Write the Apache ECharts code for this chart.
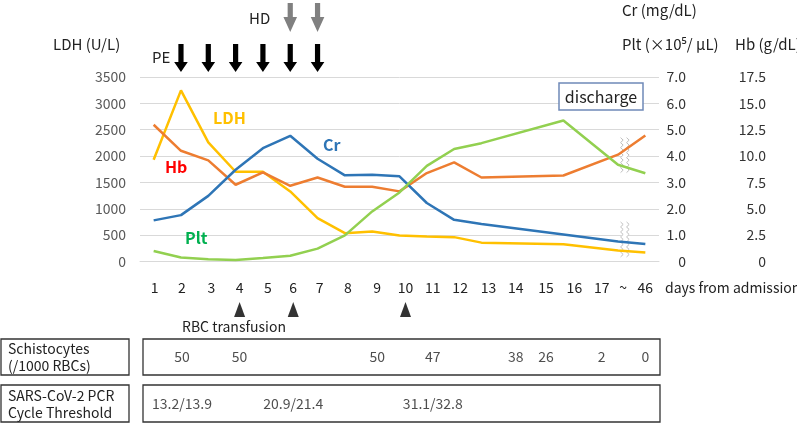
<!DOCTYPE html>
<html>
<head>
<meta charset="utf-8">
<script src="https://cdn.jsdelivr.net/npm/echarts@6/dist/echarts.min.js"></script>
<style>
  html, body { margin: 0; padding: 0; background: #fff; }
  #main { width: 797px; height: 423px; }
</style>
</head>
<body>
<div id="main"></div>
<script>
// days from admission (the "~" slot is the last value before the break)
const days = ['1', '2', '3', '4', '5', '6', '7', '8', '9', '10', '11', '12', '13', '14', '15', '16', '17', '~', '46'];
const ldh = [1930, 3247, 2260, 1703, 1703, 1329, 823, 538, 570, 494, 475, 462, 358, null, null, 327, null, 207, 170];
const hb = [12.97, 10.5, 9.59, 7.28, 8.45, 7.18, 7.97, 7.09, 7.09, 6.65, 8.39, 9.4, 7.97, null, null, 8.16, null, 10.13, 11.96];
const cr = [1.56, 1.76, 2.49, 3.48, 4.30, 4.77, 3.90, 3.27, 3.29, 3.23, 2.22, 1.58, 1.42, null, null, null, null, 0.76, 0.66];
const plt = [0.40, 0.15, 0.09, 0.06, 0.13, 0.22, 0.49, 0.99, 1.90, 2.62, 3.63, 4.27, 4.49, null, null, 5.35, null, 3.67, 3.35];

// events
const peDays = ['2', '3', '4', '5', '6', '7'];
const hdDays = ['6', '7'];
const rbcDays = ['4', '6', '10'];

// table rows
const schistoDays = ['2', '4', '9', '11', '14', '15', '17', '46'];
const schistoVals = ['50', '50', '50', '47', '38', '26', '2', '0'];
const pcrDays = ['2', '6', '11'];
const pcrVals = ['13.2/13.9', '20.9/21.4', '31.1/32.8'];

// day labels in the original are hand placed a little to the right of the data slots (px)
const labelShift = [1, 1, 3, 4, 5, 3, 2, 3, 5, 6, 6, 6, 7, 7, 10, 11, 11, 5, 0];

const FONT = "'Noto Sans CJK JP', 'Noto Sans', sans-serif";
const C_LDH = '#FFC000', C_HB = '#ED7D31', C_CR = '#2E75B6', C_PLT = '#92D050';

const chart = echarts.init(document.getElementById('main'));

function lineSeries(name, data, yIdx, color) {
  return {
    name: name, type: 'line', data: data, xAxisIndex: 0, yAxisIndex: yIdx,
    symbol: 'none', connectNulls: true, silent: true,
    lineStyle: { color: color, width: 2.5 }, itemStyle: { color: color }
  };
}

function textRow(xIdx, yIdx, dayList, vals) {
  return {
    type: 'scatter', xAxisIndex: xIdx, yAxisIndex: yIdx, silent: true,
    symbolSize: 1, itemStyle: { color: 'rgba(0,0,0,0)' },
    data: dayList.map((d, i) => ({
      value: [days.indexOf(d), 0], name: vals[i],
      label: { offset: [labelShift[days.indexOf(d)], 0] }
    })),
    label: {
      show: true, position: 'inside', formatter: p => p.name,
      fontSize: 14, fontFamily: FONT, color: '#222'
    }
  };
}

// rich styles used to nudge each day label
const dayRich = {};
labelShift.forEach((s, i) => {
  dayRich['s' + i] = { padding: [0, 0, 0, 2 * s], fontSize: 14, color: '#222', fontFamily: FONT };
});

const hiddenCat = { type: 'category', data: days, show: false, boundaryGap: true };
const hiddenVal = { type: 'value', min: -1, max: 1, show: false };

const option = {
  animation: false,
  textStyle: { fontFamily: FONT },
  grid: [
    { left: 140, right: 138, top: 77, height: 184.5 },
    { left: 140, right: 138, top: 339, height: 36 },
    { left: 140, right: 138, top: 385, height: 37 }
  ],
  xAxis: [
    {
      type: 'category', data: days, gridIndex: 0, boundaryGap: true,
      axisLine: { lineStyle: { color: '#d9d9d9' } },
      axisTick: { show: false },
      axisLabel: {
        interval: 0, margin: 19, fontSize: 14, color: '#222', fontFamily: FONT,
        formatter: (v, i) => '{s' + i + '|' + v + '}', rich: dayRich
      }
    },
    Object.assign({ gridIndex: 1 }, hiddenCat),
    Object.assign({ gridIndex: 2 }, hiddenCat)
  ],
  yAxis: [
    {
      type: 'value', gridIndex: 0, min: 0, max: 3500, interval: 500,
      axisLine: { show: false }, axisTick: { show: false },
      splitLine: { lineStyle: { color: '#d9d9d9' } },
      axisLabel: { margin: 14, fontSize: 14, color: '#595959', fontFamily: FONT, formatter: v => String(v) }
    },
    {
      type: 'value', gridIndex: 0, position: 'right', min: 0, max: 7, interval: 1,
      axisLine: { show: false }, axisTick: { show: false }, splitLine: { show: false },
      axisLabel: {
        align: 'right', margin: 27, fontSize: 14, color: '#333', fontFamily: FONT,
        formatter: v => (v === 0 ? '0' : v.toFixed(1))
      }
    },
    {
      type: 'value', gridIndex: 0, position: 'right', min: 0, max: 17.5, interval: 2.5,
      axisLine: { show: false }, axisTick: { show: false }, splitLine: { show: false },
      axisLabel: {
        align: 'right', margin: 107, fontSize: 14, color: '#333', fontFamily: FONT,
        formatter: v => (v === 0 ? '0' : v.toFixed(1))
      }
    },
    Object.assign({ gridIndex: 1 }, hiddenVal),
    Object.assign({ gridIndex: 2 }, hiddenVal)
  ],
  series: [
    lineSeries('LDH', ldh, 0, C_LDH),
    lineSeries('Hb', hb, 2, C_HB),
    lineSeries('Cr', cr, 1, C_CR),
    lineSeries('Plt', plt, 1, C_PLT),
    textRow(1, 3, schistoDays, schistoVals),
    textRow(2, 4, pcrDays, pcrVals)
  ]
};
chart.setOption(option);

// ---- annotations ----
const px = d => chart.convertToPixel({ xAxisIndex: 0 }, days.indexOf(d));
const pyCr = v => chart.convertToPixel({ yAxisIndex: 1 }, v);

function txt(text, x, y, size, color, weight, align) {
  return {
    type: 'text', x: x, y: y, silent: true,
    style: {
      text: text, fill: color || '#222', fontSize: size || 15, fontFamily: FONT,
      fontWeight: weight || 'normal', align: align || 'left', verticalAlign: 'middle'
    }
  };
}

function arrow(cx, top, headTop, tip, color) {
  return {
    type: 'polygon', silent: true,
    shape: { points: [[cx - 2.6, top], [cx + 2.6, top], [cx + 2.6, headTop], [cx + 6.8, headTop],
                      [cx, tip], [cx - 6.8, headTop], [cx - 2.6, headTop]] },
    style: { fill: color }
  };
}

function breakMark(x, y0, y1) {
  const left = [], right = [];
  let k = 0;
  for (let y = y0; y <= y1; y += 2.5, k++) {
    const dx = (k % 2 ? 1.3 : -1.3);
    left.push([x - 3 + dx, y]);
    right.push([x + 3 + dx, y]);
  }
  return [
    { type: 'rect', silent: true, shape: { x: x - 3.5, y: y0, width: 7, height: y1 - y0 }, style: { fill: '#fff' } },
    { type: 'polyline', silent: true, shape: { points: left }, style: { stroke: '#bfbfbf', lineWidth: 1, fill: null } },
    { type: 'polyline', silent: true, shape: { points: right }, style: { stroke: '#bfbfbf', lineWidth: 1, fill: null } }
  ];
}

const g = [];
// axis titles and notes
g.push(txt('LDH (U/L)', 53, 44));
g.push(txt('Cr (mg/dL)', 622, 10));
g.push(txt('Plt (×10⁵/ μL)', 622, 44));
g.push(txt('Hb (g/dL)', 735, 44));
g.push(txt('days from admission', 665, 288, 14));
g.push(txt('PE', 152, 57));
g.push(txt('HD', 249, 18));
g.push(txt('RBC transfusion', 182, 327, 14));

// series names
g.push(txt('LDH', 213, 118, 16, C_LDH, 'bold'));
g.push(txt('Hb', 165, 167, 16, '#FF0000', 'bold'));
g.push(txt('Cr', 323, 145, 16, C_CR, 'bold'));
g.push(txt('Plt', 185, 238, 16, '#00B050', 'bold'));

// discharge box
g.push({ type: 'rect', silent: true, shape: { x: 559, y: 83, width: 84, height: 27 },
         style: { fill: '#fff', stroke: '#6f89b8', lineWidth: 1.5 } });
g.push(txt('discharge', 601, 96.5, 16, '#222', 'normal', 'center'));

// PE / HD arrows
peDays.forEach(d => g.push(arrow(px(d), 44, 62, 72, '#000')));
hdDays.forEach(d => g.push(arrow(px(d), 3, 17, 32, '#808080')));

// RBC transfusion triangles, under the day labels
rbcDays.forEach(d => {
  const x = px(d) + labelShift[days.indexOf(d)];
  g.push({ type: 'polygon', silent: true, shape: { points: [[x, 302], [x + 5.5, 317], [x - 5.5, 317]] },
           style: { fill: '#333' } });
});

// axis break marks between "~" and "46"
const xb = px('~') + 0.25 * (px('46') - px('~'));
breakMark(xb, pyCr(4.7), pyCr(3.35)).forEach(e => g.push(e));
breakMark(xb, pyCr(1.5), pyCr(0.17)).forEach(e => g.push(e));

// table frames and row titles
const box = (x, y, w, h) => ({ type: 'rect', silent: true, shape: { x: x, y: y, width: w, height: h },
                               style: { fill: null, stroke: '#333', lineWidth: 1.3 } });
g.push(box(1, 339, 128, 36));
g.push(box(143, 339, 517, 36));
g.push(box(1, 385, 128, 37));
g.push(box(143, 385, 517, 37));
g.push(txt('Schistocytes', 8, 349, 14));
g.push(txt('(/1000 RBCs)', 8, 366, 14));
g.push(txt('SARS-CoV-2 PCR', 8, 396, 14));
g.push(txt('Cycle Threshold', 8, 413, 14));

chart.setOption({ graphic: g });
</script>
</body>
</html>
